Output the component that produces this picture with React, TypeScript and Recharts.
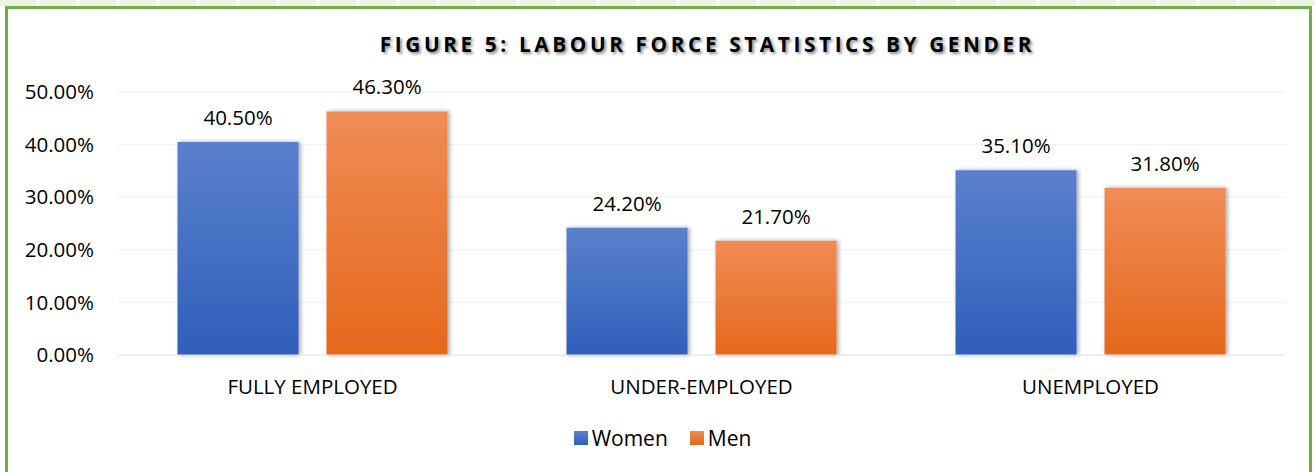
import React from "react";
import { BarChart, Bar, XAxis, YAxis, CartesianGrid, Legend, LabelList } from "recharts";

const categories = ["FULLY EMPLOYED", "UNDER-EMPLOYED", "UNEMPLOYED"];
const women = [40.5, 24.2, 35.1];
const men = [46.3, 21.7, 31.8];
const yTicks = [0, 10, 20, 30, 40, 50];
const title = "FIGURE 5: LABOUR FORCE STATISTICS BY GENDER";

const data = categories.map((c, i) => ({ name: c, Women: women[i], Men: men[i] }));

const FONT = "'Open Sans', sans-serif";
const FS = 20.5;
const pct = (v: number) => `${Number(v).toFixed(2)}%`;

const legendItems = ["Women", "Men"];

const renderLegend = () => (
  <div style={{ display: "flex", justifyContent: "center", alignItems: "center", fontFamily: FONT, fontSize: 21, color: "#000", paddingLeft: 10 }}>
    {legendItems.map((name, i) => (
      <div key={name} style={{ display: "flex", alignItems: "center", marginRight: i === 0 ? 22 : 0 }}>
        <div
          style={{
            width: 14,
            height: 14,
            marginRight: 4,
            background: i === 0 ? "linear-gradient(#5b80cd,#2f5fba)" : "linear-gradient(#f08c55,#e5681c)",
          }}
        />
        <span>{name}</span>
      </div>
    ))}
  </div>
);

export default function App() {
  return (
    <div style={{ position: "absolute", left: 0, top: 0, width: 1315, height: 472, background: "#fff", overflow: "hidden" }}>
      <div
        style={{
          position: "absolute",
          left: 0,
          top: 0,
          width: 1315,
          height: 6,
          background: "repeating-linear-gradient(90deg, #e9f4e3 0px, #e9f4e3 36px, #ffffff 36px, #ffffff 40px)",
        }}
      />
      <div
        style={{
          position: "absolute",
          left: 5,
          top: 6,
          width: 1301,
          height: 480,
          borderLeft: "3px solid #70ad47",
          borderTop: "3px solid #70ad47",
          borderRight: "3px solid #70ad47",
        }}
      />
      <div
        style={{
          position: "absolute",
          left: 0,
          top: 29,
          width: 1415,
          textAlign: "center",
          fontFamily: FONT,
          fontWeight: 700,
          fontSize: 20.8,
          letterSpacing: 3.6,
          color: "#000",
          textShadow: "2px 2px 3px rgba(0,0,0,0.45)",
          lineHeight: "30px",
        }}
      >
        {title}
      </div>
      <div style={{ position: "absolute", left: 0, top: 0 }}>
        <BarChart
          width={1315}
          height={472}
          data={data}
          margin={{ top: 92, right: 30, left: 0, bottom: 87 }}
          barCategoryGap="15.3%"
          barGap={28}
        >
          <defs>
            <linearGradient id="gWomen" x1="0" y1="0" x2="0" y2="1">
              <stop offset="0%" stopColor="#5b80cd" />
              <stop offset="100%" stopColor="#2f5fba" />
            </linearGradient>
            <linearGradient id="gMen" x1="0" y1="0" x2="0" y2="1">
              <stop offset="0%" stopColor="#f08c55" />
              <stop offset="100%" stopColor="#e5681c" />
            </linearGradient>
            <filter id="shadow" x="-10%" y="-10%" width="130%" height="120%">
              <feDropShadow dx="2" dy="0" stdDeviation="2" floodColor="#000" floodOpacity="0.35" />
            </filter>
          </defs>
          <CartesianGrid vertical={false} stroke="#f0f0f0" />
          <YAxis
            width={118}
            domain={[0, 50]}
            ticks={yTicks}
            tickFormatter={pct}
            axisLine={false}
            tickLine={false}
            tick={{ fontFamily: FONT, fontSize: FS, fill: "#000" }}
            tickMargin={18}
          />
          <XAxis
            dataKey="name"
            height={30}
            axisLine={{ stroke: "#e6e6e6" }}
            tickLine={false}
            tick={{ fontFamily: FONT, fontSize: FS, fill: "#000" }}
            tickMargin={18}
          />
          <Legend verticalAlign="middle" align="center" layout="horizontal" content={renderLegend} wrapperStyle={{ top: 424, left: 0, width: 1315 }} />
          <Bar dataKey="Women" fill="url(#gWomen)" isAnimationActive={false} filter="url(#shadow)">
            <LabelList dataKey="Women" position="top" offset={17} formatter={pct} style={{ fontFamily: FONT, fontSize: FS, fill: "#000" }} />
          </Bar>
          <Bar dataKey="Men" fill="url(#gMen)" isAnimationActive={false} filter="url(#shadow)">
            <LabelList dataKey="Men" position="top" offset={17} formatter={pct} style={{ fontFamily: FONT, fontSize: FS, fill: "#000" }} />
          </Bar>
        </BarChart>
      </div>
    </div>
  );
}
